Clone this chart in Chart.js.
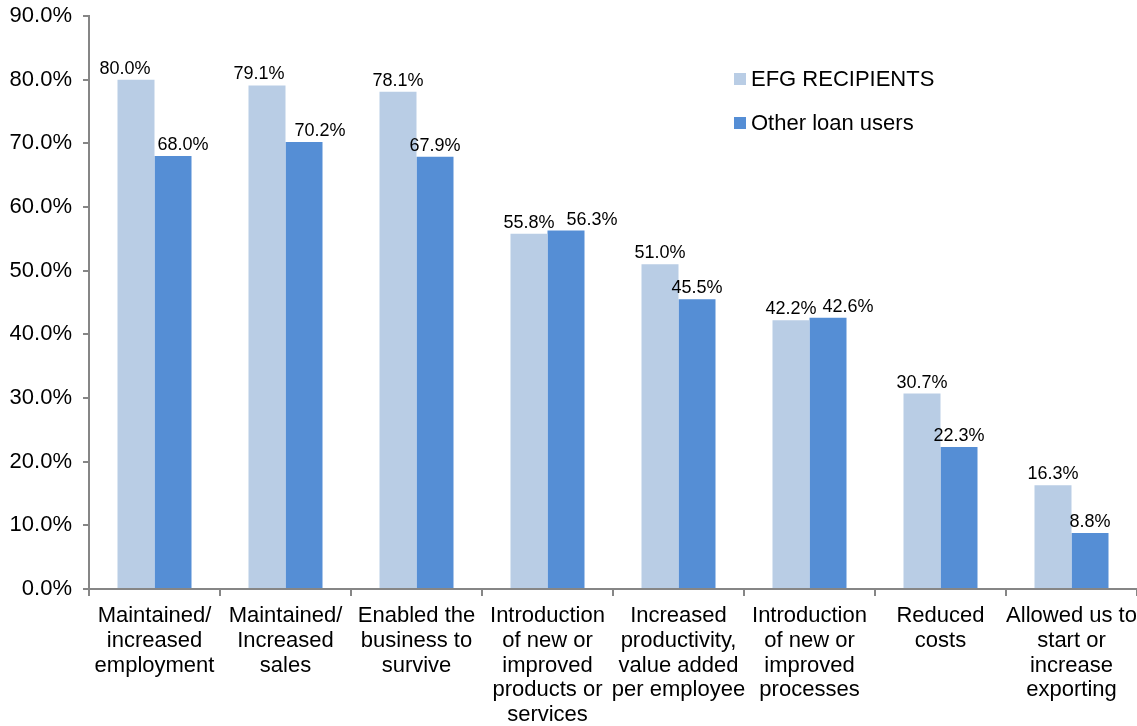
<!DOCTYPE html>
<html>
<head>
<meta charset="utf-8">
<script src="https://cdn.jsdelivr.net/npm/chart.js@4.4.1/dist/chart.umd.min.js"></script>
<style>
	html, body {margin: 0; padding: 0; background: #fff;}
	#wrap {width: 1137px; height: 726px; position: relative;}
</style>
</head>
<body>
<div id="wrap"><canvas id="chart"></canvas></div>
<script>
// Categories and series
var categories = [
	['Maintained/', 'increased', 'employment'],
	['Maintained/', 'Increased', 'sales'],
	['Enabled the', 'business to', 'survive'],
	['Introduction', 'of new or', 'improved', 'products or', 'services'],
	['Increased', 'productivity,', 'value added', 'per employee'],
	['Introduction', 'of new or', 'improved', 'processes'],
	['Reduced', 'costs'],
	['Allowed us to', 'start or', 'increase', 'exporting']
];
var efgRecipients  = [80.0, 79.1, 78.1, 55.8, 51.0, 42.2, 30.7, 16.3];
var otherLoanUsers = [68.0, 70.2, 67.9, 56.3, 45.5, 42.6, 22.3, 8.8];
var seriesLabels   = ['EFG RECIPIENTS', 'Other loan users'];
var seriesColors   = ['#B9CDE5', '#558ED5'];

// Hand-moved value labels (horizontal nudge in px), as in the original
var labelNudge = [
	[-11, -8, 0, 0, 0, 0, 0, 0],
	[ 10, 16, 0, 26, 0, 20, 0, 0]
];

var FONT      = 'Arial, "Liberation Sans", sans-serif';
var AXIS_GREY = '#868686';

// Value labels above each bar
var valueLabels = {
	id: 'valueLabels',
	afterDatasetsDraw: function(chart) {
		var ctx = chart.ctx;
		ctx.save();
		ctx.font         = '18px ' + FONT;
		ctx.fillStyle    = '#000';
		ctx.textAlign    = 'center';
		ctx.textBaseline = 'alphabetic';
		chart.data.datasets.forEach(function(ds, i) {
			chart.getDatasetMeta(i).data.forEach(function(bar, j) {
				ctx.fillText(ds.data[j].toFixed(1) + '%', bar.x + labelNudge[i][j], bar.y - 6);
			});
		});
		ctx.restore();
	}
};

// Legend drawn inside the plot, top right
var boxLegend = {
	id: 'boxLegend',
	afterDraw: function(chart) {
		var ctx = chart.ctx;
		var x = 734, y = 79, gap = 44;
		ctx.save();
		ctx.font         = '22px ' + FONT;
		ctx.textBaseline = 'middle';
		ctx.textAlign    = 'left';
		chart.data.datasets.forEach(function(ds, i) {
			ctx.fillStyle = ds.backgroundColor;
			ctx.fillRect(x, y + i * gap - 6, 12, 12);
			ctx.fillStyle = '#000';
			ctx.fillText(ds.label, x + 17, y + i * gap + 1);
		});
		ctx.restore();
	}
};

var ctx = document.getElementById('chart').getContext('2d');
var chart = new Chart(ctx, {
	type: 'bar',
	plugins: [valueLabels, boxLegend],
	data: {
		labels: categories,
		datasets: [
			{label: seriesLabels[0], data: efgRecipients,  backgroundColor: seriesColors[0]},
			{label: seriesLabels[1], data: otherLoanUsers, backgroundColor: seriesColors[1]}
		]
	},
	options: {
		responsive:          true,
		maintainAspectRatio: false,
		animation:           false,
		layout: {padding: {top: 16, right: 0, left: 0, bottom: 0}},
		datasets: {bar: {categoryPercentage: 0.565, barPercentage: 1.0}},
		plugins: {
			legend:  {display: false},
			tooltip: {enabled: false}
		},
		scales: {
			x: {
				grid:   {offset: true, drawOnChartArea: false, drawTicks: true, tickLength: 7, color: AXIS_GREY, lineWidth: 2},
				border: {color: AXIS_GREY, width: 2},
				ticks:  {color: '#000', font: {family: FONT, size: 22, lineHeight: 1.12}, padding: 8, maxRotation: 0, autoSkip: false},
				afterFit: function(scale) {scale.height = 137; scale.paddingLeft = 0; scale.paddingRight = 0;}
			},
			y: {
				min: 0, max: 90,
				grid:   {drawOnChartArea: false, drawTicks: true, tickLength: 6, color: AXIS_GREY, lineWidth: 2},
				border: {color: AXIS_GREY, width: 2},
				ticks:  {stepSize: 10, color: '#000', font: {family: FONT, size: 22}, padding: 11,
					callback: function(v) {return v.toFixed(1) + '%';}},
				afterFit: function(scale) {scale.width = 89; scale.paddingTop = 0; scale.paddingBottom = 0;}
			}
		}
	}
});
</script>
</body>
</html>
